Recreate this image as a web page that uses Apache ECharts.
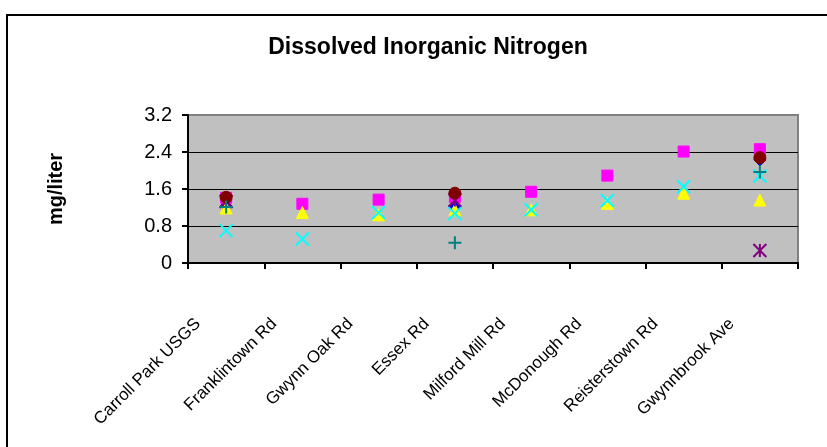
<!DOCTYPE html>
<html>
<head>
<meta charset="utf-8">
<script src="https://cdn.jsdelivr.net/npm/echarts@6/dist/echarts.min.js"></script>
<style>
html,body{margin:0;padding:0;background:#fff;}
#c{width:827px;height:447px;}
</style>
</head>
<body>
<div id="c"></div>
<script>
var categories = ["Carroll Park USGS","Franklintown Rd","Gwynn Oak Rd","Essex Rd","Milford Mill Rd","McDonough Rd","Reisterstown Rd","Gwynnbrook Ave"];
var yTicks = [0, 0.8, 1.6, 2.4, 3.2];
var seriesDiamond = [1.23, null, null, 1.20, null, null, null, 2.23];
var seriesSquare  = [1.41, 1.28, 1.37, 1.43, 1.54, 1.89, 2.41, 2.46];
var seriesTriangle= [1.19, 1.09, 1.04, 1.15, 1.15, 1.29, 1.51, 1.36];
var seriesX       = [0.70, 0.52, 1.09, 1.07, 1.15, 1.35, 1.65, 1.88];
var seriesStar    = [1.33, null, null, 1.36, null, null, null, 0.27];
var seriesCircle  = [1.42, null, null, 1.51, null, null, null, 2.28];
var seriesPlus    = [1.21, null, null, 0.44, null, null, null, 1.97];

var chart = echarts.init(document.getElementById('c'), null, {renderer:'canvas'});
var FONT = '"Liberation Sans", Arial, sans-serif';

function sc(name, data, symbol, size, fill, stroke, bw){
  return {
    name: name, type: 'scatter', data: data,
    symbol: symbol, symbolSize: size,
    itemStyle: {color: fill, borderColor: stroke, borderWidth: bw, opacity: 1},
    emphasis: {disabled: true}
  };
}

chart.setOption({
  animation: false,
  backgroundColor: '#ffffff',
  title: {
    text: 'Dissolved Inorganic Nitrogen',
    left: 423, top: 31, textAlign: 'center',
    textStyle: {fontFamily: FONT, fontSize: 23, fontWeight: 'bold', color: '#000'}
  },
  graphic: [{
    type: 'rect', z: -1,
    shape: {x: 7, y: 15, width: 840, height: 460},
    style: {fill: 'none', stroke: '#000', lineWidth: 2}
  }],
  grid: {
    left: 188, right: 29, top: 115, bottom: 184,
    show: true, backgroundColor: '#C0C0C0', borderColor: '#808080', borderWidth: 2
  },
  xAxis: {
    type: 'category', data: categories, boundaryGap: true,
    axisLine: {lineStyle: {color: '#000', width: 2}},
    axisTick: {show: true, length: 6, alignWithLabel: false, lineStyle: {color: '#000', width: 2}},
    axisLabel: {interval: 0, rotate: 45, margin: 30, color: '#000', fontFamily: FONT, fontSize: 17, padding: [0, 40, 0, 0]},
    splitLine: {show: false}
  },
  yAxis: {
    type: 'value', min: 0, max: 3.2, interval: 0.8,
    name: 'mg/liter', nameLocation: 'middle', nameGap: 122, nameRotate: 90,
    nameTextStyle: {fontFamily: FONT, fontSize: 20, fontWeight: 'bold', color: '#000'},
    axisLine: {show: true, lineStyle: {color: '#000', width: 2}},
    axisTick: {show: true, length: 6, lineStyle: {color: '#000', width: 2}},
    axisLabel: {margin: 16, color: '#000', fontFamily: FONT, fontSize: 20,
      formatter: function(v){ for (var i=0;i<yTicks.length;i++){ if (Math.abs(yTicks[i]-v)<1e-9) return String(yTicks[i]); } return ''; }},
    splitLine: {show: true, lineStyle: {color: ['#000','#000','#000','#000','#808080'], width: 1}}
  },
  series: [
    sc('S1', seriesDiamond, 'diamond', 12, '#0000FF', '#000080', 1),
    sc('S2', seriesSquare, 'rect', 11, '#FF00FF', '#FF00FF', 1),
    sc('S3', seriesTriangle, 'triangle', 12, '#FFFF00', '#FFFF00', 1),
    sc('S4', seriesX, 'path://M0,0L10,10M10,0L0,10', 13, '#00FFFF', '#00FFFF', 2),
    sc('S5', seriesStar, 'path://M0,0L10,10M10,0L0,10M5,0L5,10', 13, '#800080', '#800080', 2),
    sc('S6', seriesCircle, 'circle', 12, '#800000', '#800000', 1),
    sc('S7', seriesPlus, 'path://M5,0L5,10M0,5L10,5', 13, '#008080', '#008080', 2)
  ]
});
</script>
</body>
</html>
